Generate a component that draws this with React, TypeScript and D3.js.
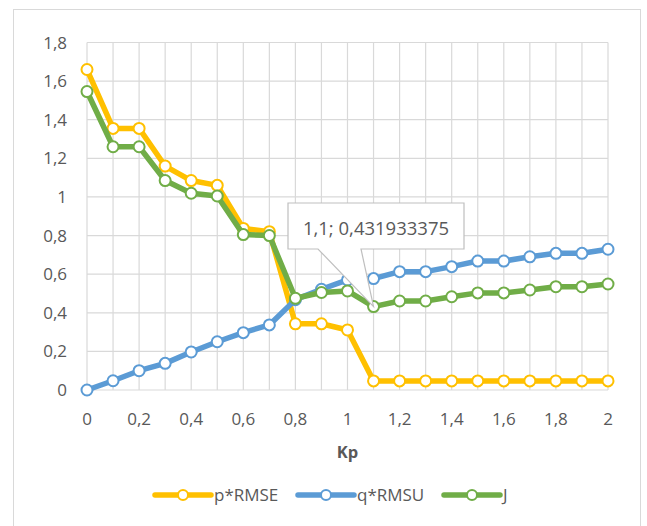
import React from "react";
import * as d3 from "d3";

const kp = [0, 0.1, 0.2, 0.3, 0.4, 0.5, 0.6, 0.7, 0.8, 0.9, 1, 1.1, 1.2, 1.3, 1.4, 1.5, 1.6, 1.7, 1.8, 1.9, 2];
const pRMSE = [1.66, 1.355, 1.355, 1.16, 1.085, 1.06, 0.837, 0.82, 0.343, 0.343, 0.311, 0.047, 0.047, 0.047, 0.047, 0.047, 0.047, 0.047, 0.047, 0.047, 0.047];
const qRMSU = [0, 0.048, 0.1, 0.138, 0.197, 0.25, 0.297, 0.337, 0.468, 0.522, 0.57, 0.577, 0.613, 0.613, 0.639, 0.668, 0.668, 0.69, 0.708, 0.708, 0.729];
const J = [1.546, 1.26, 1.26, 1.085, 1.019, 1.005, 0.805, 0.8, 0.475, 0.505, 0.513, 0.431933375, 0.461, 0.461, 0.483, 0.503, 0.503, 0.518, 0.535, 0.535, 0.549];
const seriesNames = ["p*RMSE", "q*RMSU", "J"];
const seriesColors = ["#FFC000", "#5B9BD5", "#70AD47"];
const xTicks = [0, 0.2, 0.4, 0.6, 0.8, 1, 1.2, 1.4, 1.6, 1.8, 2];
const yTicks = [0, 0.2, 0.4, 0.6, 0.8, 1, 1.2, 1.4, 1.6, 1.8];
const xGrid = kp;
const calloutIndex = 11;

const fmt = (v: number) => String(v).replace(".", ",");

export default function App() {
  const W = 647, H = 526;
  const x = d3.scaleLinear().domain([0, 2]).range([87, 608]);
  const y = d3.scaleLinear().domain([0, 1.8]).range([390, 42.5]);
  const series = [pRMSE, qRMSU, J];
  const line = d3.line<number>().x((_, i) => x(kp[i])).y((d) => y(d));
  const font = "'Open Sans', sans-serif";
  const txt = "#595959";

  const tipX = x(kp[calloutIndex]);
  const tipY = y(J[calloutIndex]);
  const bx0 = 288, bx1 = 464, by0 = 203, by1 = 249;
  const callout = `M${bx0},${by0}H${bx1}V${by1}H361L${tipX},${tipY}L318,${by1}H${bx0}Z`;

  const legendX = [155, 298, 444];
  const legendY = 495;

  return (
    <svg width={W} height={H} style={{ position: "absolute", left: 0, top: 0, background: "#fff" }}>
      <rect x={0} y={0} width={W} height={H} fill="#fff" />
      <rect x={13.5} y={9.5} width={627} height={530} fill="#fff" stroke="#D9D9D9" strokeWidth={1} />
      {xGrid.map((t) => (
        <line key={"vx" + t} x1={x(t)} x2={x(t)} y1={y(1.8)} y2={y(0)} stroke="#D9D9D9" strokeWidth={1.2} />
      ))}
      {yTicks.map((t) => (
        <line key={"hy" + t} x1={x(0)} x2={x(2)} y1={y(t)} y2={y(t)} stroke="#D9D9D9" strokeWidth={1.2} />
      ))}
      {yTicks.map((t) => (
        <text key={"yl" + t} x={67} y={y(t) + 6} textAnchor="end" fontFamily={font} fontSize={17} fill={txt}>
          {fmt(t)}
        </text>
      ))}
      {xTicks.map((t) => (
        <text key={"xl" + t} x={x(t)} y={425} textAnchor="middle" fontFamily={font} fontSize={17} fill={txt}>
          {fmt(t)}
        </text>
      ))}
      <text x={(x(0) + x(2)) / 2} y={458} textAnchor="middle" fontFamily={font} fontSize={16.5} fontWeight="bold" fill={txt}>
        Kp
      </text>
      {series.map((s, si) => (
        <g key={"s" + si}>
          <path d={line(s) || ""} fill="none" stroke={seriesColors[si]} strokeWidth={5.5} strokeLinejoin="round" strokeLinecap="round" />
          {s.map((v, i) => (
            <circle key={i} cx={x(kp[i])} cy={y(v)} r={5.5} fill="#fff" stroke={seriesColors[si]} strokeWidth={2} />
          ))}
        </g>
      ))}
      <path d={callout} fill="#fff" stroke="#BFBFBF" strokeWidth={1.2} />
      <text x={(bx0 + bx1) / 2} y={235} textAnchor="middle" fontFamily={font} fontSize={18.5} fill={txt}>
        {`${fmt(kp[calloutIndex])}; ${fmt(J[calloutIndex])}`}
      </text>
      {seriesNames.map((n, i) => (
        <g key={"lg" + i}>
          <line x1={legendX[i]} x2={legendX[i] + 56} y1={legendY} y2={legendY} stroke={seriesColors[i]} strokeWidth={5.5} strokeLinecap="round" />
          <circle cx={legendX[i] + 28} cy={legendY} r={5} fill="#fff" stroke={seriesColors[i]} strokeWidth={2} />
          <text x={legendX[i] + 59} y={legendY + 6} fontFamily={font} fontSize={17} fill={txt}>
            {n}
          </text>
        </g>
      ))}
    </svg>
  );
}
